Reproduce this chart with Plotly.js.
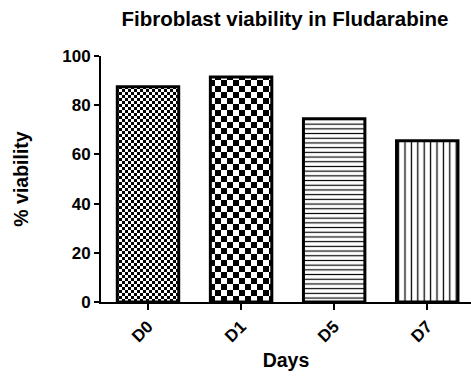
<!DOCTYPE html>
<html>
<head>
<meta charset="utf-8">
<script src="https://cdn.plot.ly/plotly-3.0.1.min.js"></script>
<style>html,body{margin:0;padding:0;background:#fff}#chart{width:471px;height:376px}</style>
</head>
<body>
<div id="chart"></div>
<script>
const categories = ["D0", "D1", "D5", "D7"];
const viability = [87.5, 91.5, 74.5, 65.5];
const patternShapes = [".", ".", "-", "|"];
const patternSizes = [6, 12, 4.7, 6.4];
const patternSolidity = [0.5, 0.5, 0.25, 0.2];

const trace = {
  type: "bar",
  x: categories,
  y: viability,
  width: 0.66,
  marker: {
    color: "#ffffff",
    line: {color: "#000000", width: 3},
    pattern: {
      shape: patternShapes,
      size: patternSizes,
      solidity: patternSolidity,
      fgcolor: "#000000",
      bgcolor: "#ffffff",
      fillmode: "replace"
    }
  },
  hoverinfo: "none"
};

const fam = "Liberation Sans, Arial, sans-serif";

const layout = {
  width: 471,
  height: 376,
  margin: {l: 101, r: 0, t: 56, b: 74},
  paper_bgcolor: "#ffffff",
  plot_bgcolor: "#ffffff",
  showlegend: false,
  font: {family: fam, color: "#000"},
  title: {
    text: "Fibroblast viability in Fludarabine",
    font: {family: fam, size: 20.5, color: "#000", weight: "bold"},
    xref: "container", x: 0.605, xanchor: "center",
    yref: "container", y: 1 - 19 / 376, yanchor: "middle"
  },
  xaxis: {
    range: [-0.505, 3.47],
    showline: true, linecolor: "#000", linewidth: 2,
    ticks: "outside", ticklen: 6, tickwidth: 2, tickcolor: "#000",
    tickangle: -45,
    tickfont: {family: fam, size: 17, color: "#000", weight: "bold"},
    showgrid: false, zeroline: false,
    title: {text: "Days", font: {family: fam, size: 19.5, color: "#000", weight: "bold"}, standoff: 8},
    automargin: false
  },
  yaxis: {
    range: [0, 100],
    showline: true, linecolor: "#000", linewidth: 2,
    ticks: "outside", ticklen: 5, tickwidth: 2, tickcolor: "#000",
    tickvals: [0, 20, 40, 60, 80, 100],
    tickfont: {family: fam, size: 17, color: "#000", weight: "bold"},
    showgrid: false, zeroline: false,
    title: {text: "% viability", font: {family: fam, size: 19.5, color: "#000", weight: "bold"}, standoff: 28},
    automargin: false
  }
};

function checkerPatterns(gd) {
  gd.querySelectorAll("pattern").forEach(function (p) {
    const c = p.querySelector("circle");
    if (!c) return;
    const s = parseFloat(p.getAttribute("width"));
    const h = s / 2;
    const path = document.createElementNS("http://www.w3.org/2000/svg", "path");
    path.setAttribute("d", "M0,0H" + h + "V" + h + "H0Z M" + h + "," + h + "H" + s + "V" + s + "H" + h + "Z");
    path.setAttribute("fill", c.getAttribute("fill") || "#000");
    c.parentNode.replaceChild(path, c);
  });
}

const gd = document.getElementById("chart");
Plotly.newPlot(gd, [trace], layout, {staticPlot: true, displayModeBar: false}).then(function () {
  checkerPatterns(gd);
  gd.on("plotly_afterplot", function () { checkerPatterns(gd); });
});
</script>
</body>
</html>
